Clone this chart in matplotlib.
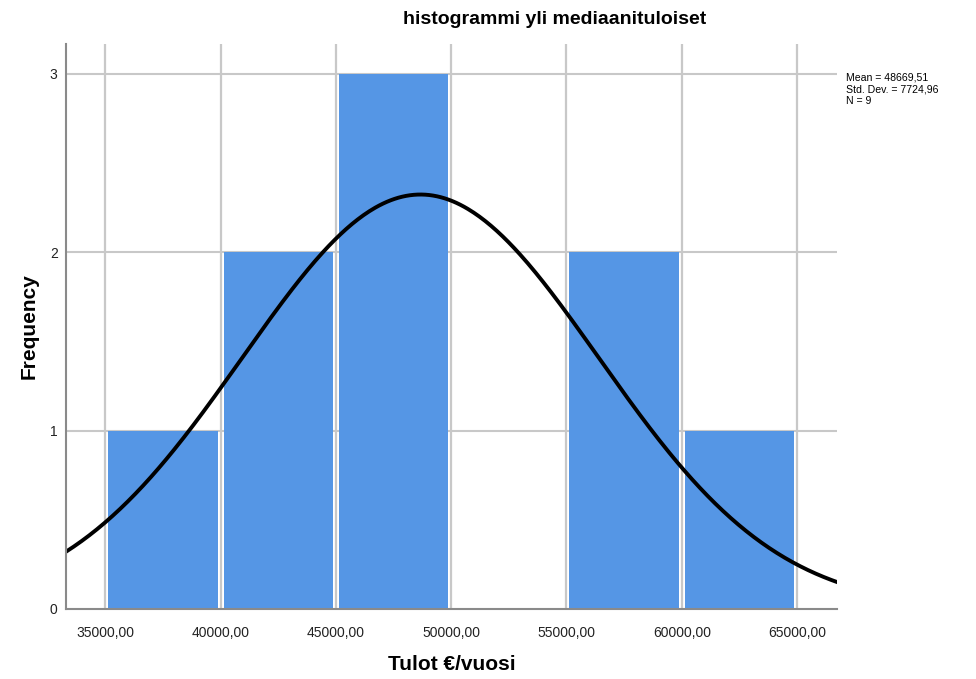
import numpy as np
import matplotlib
matplotlib.use("Agg")
import matplotlib.pyplot as plt

plt.rcParams["font.family"] = ["Liberation Sans", "DejaVu Sans"]

# binned incomes (5000 wide) and summary statistics
bin_edges = [35000, 40000, 45000, 50000, 55000, 60000, 65000]
counts = [1, 2, 3, 0, 2, 1]
mean = 48669.51
std_dev = 7724.96
n_obs = 9
tick_values = [35000, 40000, 45000, 50000, 55000, 60000, 65000]
tick_labels = ["35000,00", "40000,00", "45000,00", "50000,00",
               "55000,00", "60000,00", "65000,00"]

BAR = "#5596E5"
GRID = "#c8c8c8"


def fi_num(v):
    """Two decimals with a decimal comma."""
    return f"{v:.2f}".replace(".", ",")


fig = plt.figure(figsize=(9.76, 6.79), dpi=100)
ax = fig.add_axes([0.0676, 0.1031, 0.79, 0.8321])

xlo, xhi = 33300, 66730
edges = np.asarray(bin_edges, dtype=float)
widths = np.diff(edges)
# leave a thin white gap at each bin boundary (about 3 px)
inset = 3 * (xhi - xlo) / (0.79 * 976)
ax.bar(edges[:-1] + inset, counts, width=widths - 2 * inset, align="edge",
       color=BAR, edgecolor="none", zorder=2)

# normal curve scaled to the histogram counts
xx = np.linspace(xlo, xhi, 400)
scale = n_obs * widths[0]
yy = scale * np.exp(-0.5 * ((xx - mean) / std_dev) ** 2) / (std_dev * np.sqrt(2 * np.pi))
ax.plot(xx, yy, color="black", linewidth=2.8, zorder=4)

ax.set_xlim(xlo, xhi)
ax.set_ylim(0, 3.168)
ax.set_xticks(tick_values)
ax.set_xticklabels(tick_labels)
ax.set_yticks([0, 1, 2, 3])
ax.set_yticklabels(["0", "1", "2", "3"])
ax.tick_params(length=0, labelsize=10, colors="#222222")
ax.tick_params(axis="x", pad=12)
ax.tick_params(axis="y", pad=6)

# horizontal grid sits behind the bars, vertical grid shows in the gaps
ax.grid(False)
for y in [1, 2, 3]:
    ax.axhline(y, color=GRID, linewidth=1.5, zorder=1)
for x in tick_values:
    ax.axvline(x, color=GRID, linewidth=1.6, zorder=3)

for side in ("top", "right"):
    ax.spines[side].set_visible(False)
for side in ("left", "bottom"):
    ax.spines[side].set_color("#8a8a8a")
    ax.spines[side].set_linewidth(1.5)
    ax.spines[side].set_zorder(5)

ax.set_xlabel("Tulot €/vuosi", fontsize=15, fontweight="bold", labelpad=11)
ax.set_ylabel("Frequency", fontsize=15, fontweight="bold", labelpad=8)

fig.text(555 / 976, 1 - 20 / 679, "histogrammi yli mediaanituloiset",
         ha="center", va="center", fontsize=14, fontweight="bold")

stats = (f"Mean = {fi_num(mean)}\n"
         f"Std. Dev. = {fi_num(std_dev)}\n"
         f"N = {n_obs}")
fig.text(846 / 976, 1 - 72 / 679, stats, ha="left", va="top",
         fontsize=7.6, linespacing=1.25)

fig.savefig("out.png", dpi=100)
